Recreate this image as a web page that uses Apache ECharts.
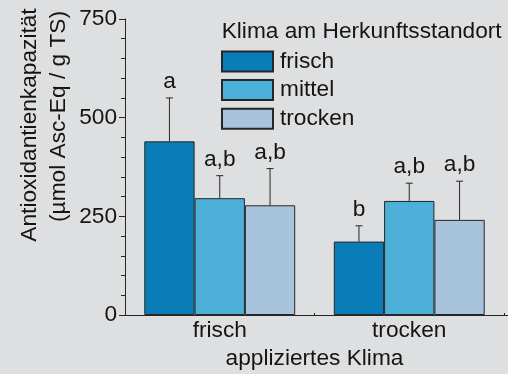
<!DOCTYPE html>
<html>
<head>
<meta charset="utf-8">
<script src="https://cdn.jsdelivr.net/npm/echarts@6/dist/echarts.min.js"></script>
<style>
  html, body { margin: 0; padding: 0; background: #DEDFE1; }
  #chart { width: 508px; height: 374px; }
</style>
</head>
<body>
<div id="chart"></div>
<script>
// Applied climate (x categories) and climate at the site of origin (series)
const categories = ['frisch', 'trocken'];
const originNames = ['frisch', 'mittel', 'trocken'];

// Mean antioxidant capacity (µmol Asc-Eq / g TS)
const meanFrisch = [440, 186];
const meanMittel = [296, 289];
const meanTrocken = [278, 241];

// Upper error (standard deviation)
const errFrisch = [110, 40];
const errMittel = [57, 45];
const errTrocken = [93, 98];

// Significance letters
const letterFrisch = ['a', 'b'];
const letterMittel = ['a,b', 'a,b'];
const letterTrocken = ['a,b', 'a,b'];

// Y axis range and tick step
const yMin = 0;
const yMax = 750;
const yStep = 250;

const FONT = '"Liberation Sans", Arial, Helvetica, sans-serif';
const FS = 22.7;
const INK = '#141414';
const EDGE = '#262626';
const colors = ['#0A7CB8', '#4DB0D9', '#A8C3DC'];
const BAR_W = 50.3;

const means = [meanFrisch, meanMittel, meanTrocken];
const errs = [errFrisch, errMittel, errTrocken];
const letters = [letterFrisch, letterMittel, letterTrocken];

const chart = echarts.init(document.getElementById('chart'), null, { renderer: 'canvas' });

const barSeries = originNames.map((name, i) => ({
  name: name,
  type: 'bar',
  data: means[i],
  barWidth: BAR_W,
  barGap: '0%',
  itemStyle: { color: colors[i], borderColor: EDGE, borderWidth: 1 },
  z: 2
}));

const errorSeries = originNames.map((name, i) => ({
  name: name + '-err',
  type: 'custom',
  data: categories.map((c, k) => [k, means[i][k], errs[i][k]]),
  encode: { x: 0, y: 1 },
  z: 3,
  silent: true,
  renderItem: function (params, api) {
    const k = api.value(0);
    const m = api.value(1);
    const e = api.value(2);
    const base = api.coord([k, m]);
    const tip = api.coord([k, m + e]);
    const x = base[0] + (i - 1) * BAR_W;
    const lineStyle = { stroke: EDGE, lineWidth: 1 };
    return {
      type: 'group',
      children: [
        { type: 'line', shape: { x1: x, y1: base[1], x2: x, y2: tip[1] }, style: lineStyle },
        { type: 'line', shape: { x1: x - 3.5, y1: tip[1], x2: x + 3.5, y2: tip[1] }, style: lineStyle },
        {
          type: 'text',
          style: {
            text: letters[i][params.dataIndex],
            x: x,
            y: tip[1] - 16,
            align: 'center',
            verticalAlign: 'middle',
            fontSize: FS,
            fontFamily: FONT,
            fill: INK
          }
        }
      ]
    };
  }
}));

chart.setOption({
  backgroundColor: '#DEDFE1',
  animation: false,
  textStyle: { fontFamily: FONT },
  grid: { left: 125, right: 4, top: 19, bottom: 59, containLabel: false, outerBoundsMode: 'none' },
  legend: {
    data: originNames,
    orient: 'vertical',
    left: 221,
    top: 50,
    padding: 0,
    icon: 'rect',
    itemWidth: 51,
    itemHeight: 20,
    itemGap: 5.6,
    selectedMode: false,
    textStyle: { fontSize: FS, fontFamily: FONT, color: INK, lineHeight: 20, padding: [0, 0, 0, 2] }
  },
  xAxis: {
    type: 'category',
    data: categories,
    axisLine: { lineStyle: { color: EDGE, width: 1 } },
    axisTick: { show: true, inside: true, length: 2, lineStyle: { color: EDGE } },
    axisLabel: { fontSize: FS, fontFamily: FONT, color: INK, margin: 4 },
    splitLine: { show: false },
    name: 'appliziertes Klima',
    nameLocation: 'middle',
    nameGap: 17,
    nameTextStyle: { fontSize: FS, fontFamily: FONT, color: INK }
  },
  yAxis: {
    type: 'value',
    min: yMin,
    max: yMax,
    interval: yStep,
    axisLine: { show: true, lineStyle: { color: EDGE, width: 1 } },
    axisTick: { show: true, length: 6, lineStyle: { color: EDGE } },
    minorTick: { show: true, splitNumber: 5, length: 4, lineStyle: { color: EDGE } },
    axisLabel: { fontSize: FS, fontFamily: FONT, color: INK, margin: 8 },
    splitLine: { show: false },
    minorSplitLine: { show: false }
  },
  graphic: [
    {
      type: 'text', x: 29.5, y: 125, rotation: Math.PI / 2,
      style: { text: 'Antioxidantienkapazität', align: 'center', verticalAlign: 'middle', fontSize: FS, fontFamily: FONT, fill: INK }
    },
    {
      type: 'text', x: 59, y: 116.5, rotation: Math.PI / 2,
      style: { text: '(µmol Asc-Eq / g TS)', align: 'center', verticalAlign: 'middle', fontSize: FS, fontFamily: FONT, fill: INK }
    },
    {
      type: 'text', x: 221.7, y: 31.3,
      style: { text: 'Klima am Herkunftsstandort', align: 'left', verticalAlign: 'middle', fontSize: FS, fontFamily: FONT, fill: INK }
    },
    {
      type: 'line', shape: { x1: 503, y1: 315.5, x2: 508, y2: 315.5 },
      style: { stroke: EDGE, lineWidth: 1 }
    }
  ],
  series: barSeries.concat(errorSeries)
});
</script>
</body>
</html>
